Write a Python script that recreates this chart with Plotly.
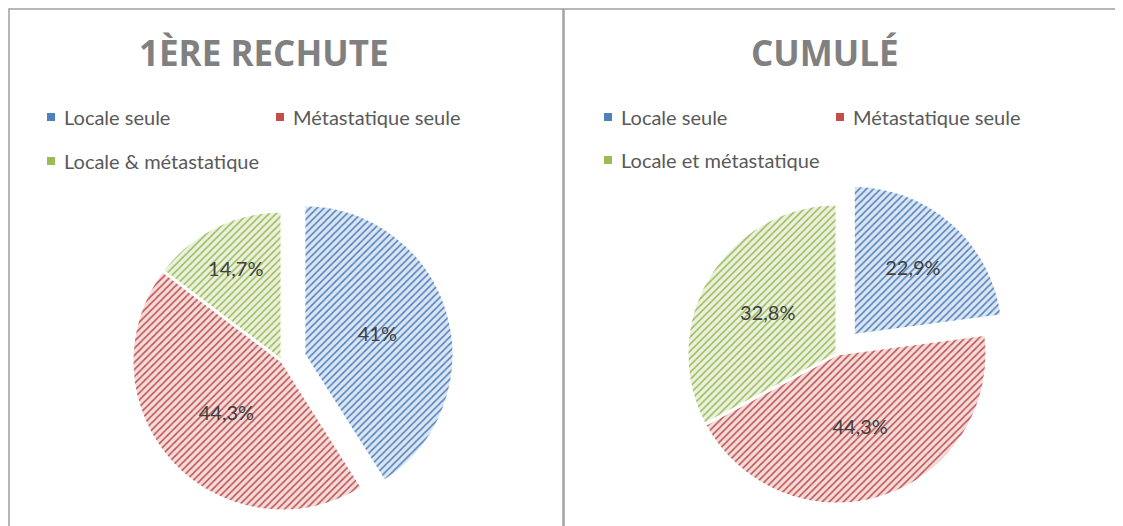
import plotly.graph_objects as go

W, H = 1123, 526
OFF = 8  # the page body margin shifts the figure by 8px

# data
titles = ["1ÈRE RECHUTE", "CUMULÉ"]
labels_left = ["Locale seule", "Métastatique seule", "Locale & métastatique"]
labels_right = ["Locale seule", "Métastatique seule", "Locale et métastatique"]
values_left = [41, 44.3, 14.7]
values_right = [22.9, 44.3, 32.8]

colors = ["#4F81BD", "#C0504D", "#9BBB59"]
tints = ["#DCE6F2", "#F2DCDB", "#EBF1DE"]


def fx(x):
    # screen px -> paper x
    return (x - OFF) / W


def fy(y):
    # screen px (from top) -> paper y
    return 1 - (y - OFF) / H


def pct(v):
    return f"{v:g}%".replace(".", ",")


# per chart: box left/right, title centre, pie centre/radius/pull, legend columns
charts = [
    dict(labels=labels_left, values=values_left, title=titles[0],
         box=(9, 563), title_x=264, cx=282, cy=361, r=150, pull=0.152,
         cols=(51, 280), rows=(117, 161)),
    dict(labels=labels_right, values=values_right, title=titles[1],
         box=(564, 1120), title_x=825, cx=837, cy=354, r=150, pull=0.165,
         cols=(608, 840), rows=(117, 160)),
]

fig = go.Figure()
annotations = []
shapes = []

for c in charts:
    half = c["r"] * (1 + c["pull"])
    dom_x = [max(0, fx(c["cx"] - half)), min(1, fx(c["cx"] + half))]
    dom_y = [max(0, fy(c["cy"] + half)), min(1, fy(c["cy"] - half))]
    fig.add_trace(go.Pie(
        labels=c["labels"], values=c["values"],
        text=[pct(v) for v in c["values"]], textinfo="text",
        textposition="inside", insidetextorientation="horizontal",
        textfont=dict(family="Lato", size=20, color="#404040"),
        sort=False, direction="clockwise", rotation=0,
        pull=[c["pull"], 0, 0],
        marker=dict(
            colors=tints,
            line=dict(color="white", width=3),
            pattern=dict(shape="/", size=5, solidity=0.3,
                         fgcolor=colors, bgcolor=tints, fillmode="replace"),
        ),
        domain=dict(x=dom_x, y=dom_y),
        showlegend=False,
    ))

    # frame
    shapes.append(dict(type="rect", xref="paper", yref="paper",
                       x0=fx(c["box"][0]), x1=fx(c["box"][1]),
                       y0=-0.2, y1=fy(9),
                       line=dict(color="#a0a0a0", width=1.5)))

    # title
    annotations.append(dict(text=f"<b>{c['title']}</b>", x=fx(c["title_x"]), y=fy(52),
                            xref="paper", yref="paper", showarrow=False,
                            xanchor="center", yanchor="middle",
                            font=dict(family="Open Sans", size=35, color="#808080")))

    # legend (two columns, third entry wraps)
    pos = [(c["cols"][0], c["rows"][0]), (c["cols"][1], c["rows"][0]), (c["cols"][0], c["rows"][1])]
    for lab, col, (mx, my) in zip(c["labels"], colors, pos):
        shapes.append(dict(type="rect", xref="paper", yref="paper",
                           x0=fx(mx - 4), x1=fx(mx + 4), y0=fy(my + 4), y1=fy(my - 4),
                           fillcolor=col, line=dict(width=0)))
        annotations.append(dict(text=lab, x=fx(mx + 11), y=fy(my),
                                xref="paper", yref="paper", showarrow=False,
                                xanchor="left", yanchor="middle",
                                font=dict(family="Lato", size=20, color="#595959")))

fig.update_layout(
    width=W, height=H,
    margin=dict(l=0, r=0, t=0, b=0),
    paper_bgcolor="white", plot_bgcolor="white",
    shapes=shapes, annotations=annotations,
)

fig.write_html("out.html")
